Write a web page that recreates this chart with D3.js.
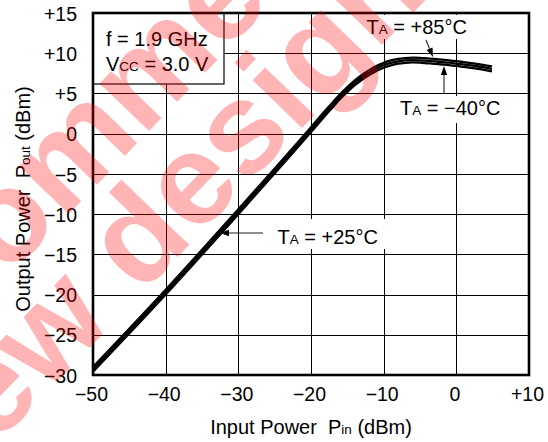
<!DOCTYPE html>
<html><head><meta charset="utf-8">
<script src="https://cdn.jsdelivr.net/npm/d3@7"></script>
<style>
html,body{margin:0;padding:0;background:#fff;}
svg{display:block;font-family:"Liberation Sans",Arial,Helvetica,sans-serif;}
text{white-space:pre;}
</style></head><body>
<svg id="chart" width="548" height="442"></svg>
<script>
// ---- data ----
const xTicks = [-50, -40, -30, -20, -10, 0, 10];
const yTicks = [15, 10, 5, 0, -5, -10, -15, -20, -25, -30];
const pin    = [-50, -40, -30, -20, -18, -17, -16, -15, -14, -13, -12, -11, -10, -9, -8, -7, -6, -5, -4, -3, -2, -1, 0, 1, 2, 3, 4, 4.9];
const pout25 = [-29.3, -19.7, -9.7, 0.5, 2.6, 3.6, 4.6, 5.5, 6.3, 7.0, 7.6, 8.1, 8.5, 8.8, 9.0, 9.1, 9.15, 9.12, 9.05, 8.98, 8.9, 8.82, 8.72, 8.6, 8.48, 8.35, 8.2, 8.05];
const pout85 = [-29.0, -19.4, -9.4, 0.8, 2.9, 3.9, 4.9, 5.8, 6.6, 7.3, 7.9, 8.4, 8.8, 9.1, 9.3, 9.4, 9.45, 9.42, 9.35, 9.28, 9.2, 9.12, 9.02, 8.9, 8.78, 8.65, 8.5, 8.35];
const poutM40= [-29.6, -20.0, -10.0, 0.2, 2.3, 3.3, 4.3, 5.2, 6.0, 6.7, 7.3, 7.8, 8.2, 8.5, 8.7, 8.8, 8.85, 8.82, 8.75, 8.68, 8.6, 8.52, 8.42, 8.3, 8.18, 8.05, 7.9, 7.75];
const seriesNames = ["TA = +85°C", "TA = +25°C", "TA = −40°C"];
const conditions = ["f = 1.9 GHz", "VCC = 3.0 V"];
const watermark = ["Not recommended", "for new design"];

const svg = d3.select("#chart");
const x = d3.scaleLinear().domain([-50, 10]).range([93, 529]);
const y = d3.scaleLinear().domain([-30, 15]).range([375, 13]);
const fmt = d => d > 0 ? "+" + d : d < 0 ? "\u2212" + Math.abs(d) : "0";

// grid
const grid = svg.append("g").attr("stroke", "#000").attr("stroke-width", 1).attr("shape-rendering", "crispEdges");
grid.selectAll("line.v").data(xTicks.slice(1, -1)).join("line")
  .attr("x1", d => Math.round(x(d)) + 0.5).attr("x2", d => Math.round(x(d)) + 0.5)
  .attr("y1", y(15)).attr("y2", y(-30));
grid.selectAll("line.h").data(yTicks.slice(1, -1)).join("line")
  .attr("y1", d => Math.round(y(d)) + 0.5).attr("y2", d => Math.round(y(d)) + 0.5)
  .attr("x1", x(-50)).attr("x2", x(10));

// axes labels (ticks)
const fs = 19.5;
const xa = svg.append("g").attr("transform", `translate(0,${y(-30)})`)
  .call(d3.axisBottom(x).tickValues(xTicks).tickFormat(fmt).tickSize(0).tickPadding(12));
xa.select(".domain").remove();
xa.selectAll("text").attr("font-size", fs).attr("font-family", "Liberation Sans, Arial, sans-serif").attr("fill", "#000").attr("dx", "-2");
const ya = svg.append("g").attr("transform", `translate(${x(-50)},0)`)
  .call(d3.axisLeft(y).tickValues(yTicks).tickFormat(fmt).tickSize(0).tickPadding(16));
ya.select(".domain").remove();
ya.selectAll("text").attr("font-size", fs).attr("font-family", "Liberation Sans, Arial, sans-serif").attr("fill", "#000").attr("dy", "0.37em");

// condition box
svg.append("rect").attr("x", x(-50)).attr("y", y(15)).attr("width", 131).attr("height", 71)
  .attr("fill", "#fff").attr("stroke", "#000").attr("stroke-width", 1.2);
svg.append("text").attr("x", 106).attr("y", 46).attr("font-size", 20).text(conditions[0]);
const c2 = svg.append("text").attr("x", 106).attr("y", 71).attr("font-size", 20);
c2.append("tspan").text("V");
c2.append("tspan").attr("font-size", 13.5).text("CC");
c2.append("tspan").text(" = 3.0 V");

// label backgrounds
const bgs = [[362, 15, 108, 24], [396, 96, 108, 27], [270, 219, 116, 30]];
svg.selectAll("rect.bg").data(bgs).join("rect").attr("class", "bg")
  .attr("x", d => d[0]).attr("y", d => d[1]).attr("width", d => d[2]).attr("height", d => d[3]).attr("fill", "#fff");

// frame
svg.append("rect").attr("x", x(-50)).attr("y", y(15)).attr("width", x(10) - x(-50)).attr("height", y(-30) - y(15))
  .attr("fill", "none").attr("stroke", "#000").attr("stroke-width", 2.6);

// curves
const line = d3.line().x((d, i) => x(pin[i])).y(d => y(d)).curve(d3.curveMonotoneX);
[pout85, pout25, poutM40].forEach(s => {
  svg.append("path").attr("d", line(s)).attr("fill", "none").attr("stroke", "#000")
    .attr("stroke-width", 2.3).attr("stroke-linejoin", "round");
});

// labels
function tlabel(xp, yp, txt) {
  const t = svg.append("text").attr("x", xp).attr("y", yp).attr("font-size", 20);
  t.append("tspan").text("T");
  t.append("tspan").attr("font-size", 13.5).text("A");
  t.append("tspan").text(txt.slice(2));
}
tlabel(366.5, 33.5, seriesNames[0]);
tlabel(277.5, 243.5, seriesNames[1]);
tlabel(400, 115, seriesNames[2]);

// arrows
function arrow(x1, y1, x2, y2) {
  const dx = x2 - x1, dy = y2 - y1, L = Math.hypot(dx, dy), ux = dx / L, uy = dy / L;
  const hl = 9, hw = 3.2;
  const bx = x2 - ux * hl, by = y2 - uy * hl;
  svg.append("line").attr("x1", x1).attr("y1", y1).attr("x2", bx).attr("y2", by)
    .attr("stroke", "#222").attr("stroke-width", 1.1);
  svg.append("path").attr("d", `M${x2},${y2}L${bx - uy * hw},${by + ux * hw}L${bx + uy * hw},${by - ux * hw}Z`).attr("fill", "#000");
}
arrow(426, 40, 433, 57);
arrow(444, 93, 444, 66);
arrow(263, 233, 220, 233);

// axis titles
const xt = svg.append("text").attr("x", 311).attr("y", 434).attr("font-size", 20).attr("text-anchor", "middle");
xt.append("tspan").text("Input Power  P");
xt.append("tspan").attr("font-size", 13.5).text("in");
xt.append("tspan").text(" (dBm)");
const yt = svg.append("text").attr("transform", "translate(30,199) rotate(-90)").attr("font-size", 20).attr("text-anchor", "middle");
yt.append("tspan").text("Output Power  P");
yt.append("tspan").attr("font-size", 13.5).text("out");
yt.append("tspan").text(" (dBm)");

// watermark
const wm = svg.append("g").attr("transform", "translate(-206,654) rotate(-46)")
  .attr("font-size", 130).attr("font-weight", "bold").attr("fill", "#ff0000").attr("fill-opacity", 0.29);
wm.append("text").attr("x", -29).attr("y", -108).text(watermark[0]);
wm.append("text").attr("x", 0).attr("y", 0).text(watermark[1]);
</script>
</body></html>
